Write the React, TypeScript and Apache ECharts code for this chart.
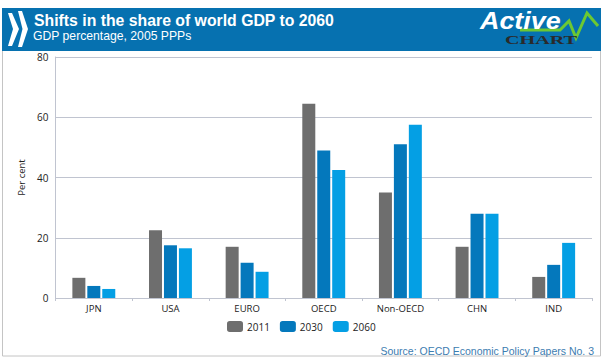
import React, { useEffect, useRef } from "react";
import * as echarts from "echarts";

const categories = ["JPN", "USA", "EURO", "OECD", "Non-OECD", "CHN", "IND"];
const values2011 = [6.7, 22.5, 17, 64.5, 35, 17, 7];
const values2030 = [4, 17.5, 11.7, 49, 51, 28, 11];
const values2060 = [3, 16.5, 8.7, 42.5, 57.5, 28, 18.3];
const yTicks = [0, 20, 40, 60, 80];
const title = "Shifts in the share of world GDP to 2060";
const subtitle = "GDP percentage, 2005 PPPs";
const source = "Source: OECD Economic Policy Papers No. 3";
const seriesColors = ["#6e6e6e", "#0478bc", "#049fe4"];
const labelFont = "'Open Sans', 'Noto Sans', sans-serif";

export default function App() {
  const ref = useRef<HTMLDivElement>(null);
  useEffect(() => {
    document.body.style.margin = "0";
    const chart = echarts.init(ref.current!, null, { renderer: "svg" });
    const bar = (name: string, data: number[], i: number) => ({
      name,
      type: "bar" as const,
      data,
      barWidth: 13,
      barGap: "15%",
      itemStyle: { color: seriesColors[i] },
    });
    chart.setOption({
      animation: false,
      backgroundColor: "#ffffff",
      grid: { left: 55.5, right: 15, top: 57, bottom: 66, containLabel: false },
      legend: {
        left: 222,
        top: 316,
        itemWidth: 16,
        itemHeight: 11,
        itemGap: 10,
        icon: "roundRect",
        textStyle: { fontFamily: labelFont, fontSize: 10, color: "#222", padding: [2, 0, 0, -1] },
        data: ["2011", "2030", "2060"],
      },
      xAxis: {
        type: "category",
        data: categories,
        axisLine: { lineStyle: { color: "#c0c4d0" } },
        axisTick: { show: true, alignWithLabel: false, length: 3, lineStyle: { color: "#c0c4d0" } },
        axisLabel: { fontFamily: labelFont, fontSize: 9.5, color: "#222", margin: 5 },
      },
      yAxis: {
        type: "value",
        min: 0,
        max: 80,
        interval: 20,
        name: "Per cent",
        nameLocation: "middle",
        nameGap: 26,
        nameTextStyle: { fontFamily: labelFont, fontSize: 9.5, color: "#222" },
        axisLine: { show: true, lineStyle: { color: "#c0c4d0" } },
        axisTick: { show: false },
        splitLine: { lineStyle: { color: "#c0c4d0" } },
        axisLabel: {
          fontFamily: labelFont,
          fontSize: 10,
          color: "#222",
          margin: 7,
          formatter: (v: number) => (yTicks.includes(v) ? String(v) : ""),
        },
      },
      series: [
        bar("2011", values2011, 0),
        bar("2030", values2030, 1),
        bar("2060", values2060, 2),
      ],
      graphic: [
        { type: "rect", silent: true, z: -1, shape: { x: 2.5, y: 8.5, width: 598, height: 347.5 }, style: { fill: "#fff", stroke: "#c4c4c4", lineWidth: 1 } },
        { type: "rect", shape: { x: 2, y: 8, width: 599, height: 43 }, style: { fill: "#0671b0" } },
        { type: "polygon", shape: { points: [[8, 13], [12, 13], [19, 29], [12, 46], [8, 46], [13, 29]] }, style: { fill: "#fff" } },
        { type: "polygon", shape: { points: [[18, 11], [22, 11], [28, 29], [22, 47], [18, 47], [22.5, 29]] }, style: { fill: "#fff" } },
        { type: "text", x: 34, y: 12, style: { text: title, fontFamily: "'Liberation Sans', Arial, sans-serif", fontWeight: "bold", fontSize: 15.8, fill: "#fff" } },
        { type: "text", x: 33, y: 30, style: { text: subtitle, fontFamily: "'Liberation Sans', Arial, sans-serif", fontSize: 12.2, fill: "#fff" } },
        { type: "polyline", shape: { points: [[520, 30], [560, 30], [569, 21], [576, 38], [587, 13], [598, 26]] }, style: { stroke: "#6cc832", fill: "none", lineWidth: 3 } },
        { type: "text", x: 480, y: 9, scaleX: 1.12, style: { text: "Active", fontFamily: "'Liberation Sans', Arial, sans-serif", fontStyle: "italic", fontWeight: "bold", fontSize: 24, fill: "#fff" } },
        { type: "text", x: 505, y: 33, scaleX: 1.55, style: { text: "CHART", fontFamily: "'Liberation Serif', serif", fontWeight: "bold", fontSize: 13, fill: "#2a2a2a" } },
        { type: "text", x: 594, y: 345, style: { text: source, align: "right", fontFamily: "'Liberation Sans', Arial, sans-serif", fontSize: 10.5, fill: "#3c7cb0" } },
      ],
    });
    return () => chart.dispose();
  }, []);
  return <div ref={ref} style={{ width: 607, height: 364 }} />;
}
